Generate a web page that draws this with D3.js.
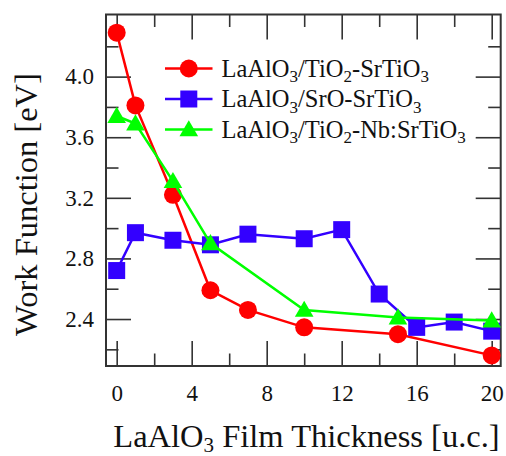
<!DOCTYPE html>
<html>
<head>
<meta charset="utf-8">
<script src="https://cdn.jsdelivr.net/npm/d3@7"></script>
<style>
  html, body { margin: 0; padding: 0; background: #fff; }
  svg text { font-family: "Liberation Serif", "Times New Roman", serif; fill: #111; }
</style>
</head>
<body>
<svg id="chart" width="506" height="456"></svg>
<script>
// values
const thicknessTiO2 = [0, 1, 3, 5, 7, 10, 15, 20];
const wfTiO2 = [4.29, 3.81, 3.22, 2.59, 2.46, 2.345, 2.30, 2.16];

const thicknessSrO = [0, 1, 3, 5, 7, 10, 12, 14, 16, 18, 20];
const wfSrO = [2.72, 2.97, 2.92, 2.89, 2.96, 2.93, 2.99, 2.565, 2.345, 2.38, 2.32];

const thicknessNb = [0, 1, 3, 5, 10, 15, 20];
const wfNb = [3.74, 3.69, 3.31, 2.90, 2.46, 2.41, 2.39];

const xMajorTicks = [0, 4, 8, 12, 16, 20];
const xMinorTicks = [2, 6, 10, 14, 18];
const yMajorTicks = [2.4, 2.8, 3.2, 3.6, 4.0];
const yMinorTicks = [2.2, 2.6, 3.0, 3.4, 3.8, 4.2];

const series = [
  { name: ['LaAlO', '3', '/TiO', '2', '-SrTiO', '3'], x: thicknessTiO2, y: wfTiO2, color: '#ff0000', symbol: 'circle' },
  { name: ['LaAlO', '3', '/SrO-SrTiO', '3'], x: thicknessSrO, y: wfSrO, color: '#3300ff', symbol: 'square' },
  { name: ['LaAlO', '3', '/TiO', '2', '-Nb:SrTiO', '3'], x: thicknessNb, y: wfNb, color: '#00ff00', symbol: 'triangle' }
];

const plotLeft = 106, plotTop = 14.5, plotRight = 500.7, plotBottom = 366;
const w = plotRight - plotLeft, h = plotBottom - plotTop;

const svg = d3.select('#chart');
const chart = svg.append('g').attr('transform', `translate(${plotLeft},${plotTop})`);

const x = d3.scaleLinear().domain([-0.57, 20.48]).range([0, w]);
const y = d3.scaleLinear().domain([2.09, 4.41]).range([h, 0]);

const axisColor = '#333';

function styleAxis(g) {
  g.select('.domain').remove();
  g.selectAll('.tick line').attr('stroke', axisColor).attr('stroke-width', 1.6);
  g.selectAll('.tick text').style('font-size', '23px').attr('fill', '#111');
}

// bottom and top
chart.append('g').attr('transform', `translate(0,${h})`)
  .call(d3.axisBottom(x).tickValues(xMajorTicks).tickSizeInner(-25).tickSizeOuter(0).tickPadding(18.5).tickFormat(d3.format('d')))
  .call(styleAxis);
chart.append('g').attr('transform', `translate(0,${h})`)
  .call(d3.axisBottom(x).tickValues(xMinorTicks).tickSizeInner(-12.5).tickSizeOuter(0).tickFormat(''))
  .call(styleAxis);
chart.append('g')
  .call(d3.axisTop(x).tickValues(xMajorTicks).tickSizeInner(-25).tickSizeOuter(0).tickFormat(''))
  .call(styleAxis);
chart.append('g')
  .call(d3.axisTop(x).tickValues(xMinorTicks).tickSizeInner(-12.5).tickSizeOuter(0).tickFormat(''))
  .call(styleAxis);

// left and right
chart.append('g')
  .call(d3.axisLeft(y).tickValues(yMajorTicks).tickSizeInner(-25).tickSizeOuter(0).tickPadding(12).tickFormat(d3.format('.1f')))
  .call(styleAxis);
chart.append('g')
  .call(d3.axisLeft(y).tickValues(yMinorTicks).tickSizeInner(-12.5).tickSizeOuter(0).tickFormat(''))
  .call(styleAxis);
chart.append('g').attr('transform', `translate(${w},0)`)
  .call(d3.axisRight(y).tickValues(yMajorTicks).tickSizeInner(-25).tickSizeOuter(0).tickFormat(''))
  .call(styleAxis);
chart.append('g').attr('transform', `translate(${w},0)`)
  .call(d3.axisRight(y).tickValues(yMinorTicks).tickSizeInner(-12.5).tickSizeOuter(0).tickFormat(''))
  .call(styleAxis);

chart.append('rect')
  .attr('width', w).attr('height', h)
  .attr('fill', 'none').attr('stroke', axisColor).attr('stroke-width', 2);

const symbolTypes = { circle: d3.symbolCircle, square: d3.symbolSquare, triangle: d3.symbolTriangle };
const symbolSizes = { circle: Math.PI * 81, square: 289, triangle: 150 };

function marker(g, s) {
  return g.append('path')
    .attr('d', d3.symbol().type(symbolTypes[s.symbol]).size(symbolSizes[s.symbol])())
    .attr('fill', s.color);
}

const line = d3.line().x(d => x(d[0])).y(d => y(d[1]));

series.forEach(s => {
  const pts = s.x.map((v, i) => [v, s.y[i]]);
  chart.append('path')
    .datum(pts)
    .attr('d', line)
    .attr('fill', 'none')
    .attr('stroke', s.color)
    .attr('stroke-width', 2.5);
  pts.forEach(p => {
    const dy = s.symbol === 'triangle' ? 1.5 : 0;
    marker(chart, s).attr('transform', `translate(${x(p[0])},${y(p[1]) + dy})`);
  });
});

// legend
const legend = svg.append('g').attr('transform', 'translate(165,68.5)');
series.forEach((s, i) => {
  const row = legend.append('g').attr('transform', `translate(0,${i * 30.5})`);
  row.append('line').attr('x1', 0).attr('x2', 47.5).attr('stroke', s.color).attr('stroke-width', 2.5);
  marker(row, s).attr('transform', `translate(23.8,${s.symbol === 'triangle' ? 1.5 : 0})`);
  const t = row.append('text').attr('x', 56.5).attr('y', 8.2).style('font-size', '24.5px');
  s.name.forEach((part, j) => {
    const sub = j % 2 === 1;
    t.append('tspan')
      .attr('dy', sub ? 5.5 : (j === 0 ? 0 : -5.5))
      .style('font-size', sub ? '17px' : '24.5px')
      .text(part);
  });
});

// axis titles
const xt = svg.append('text')
  .attr('x', 306.5).attr('y', 446.5)
  .attr('text-anchor', 'middle')
  .style('font-size', '32.5px');
xt.append('tspan').text('LaAlO');
xt.append('tspan').attr('dy', 5.5).style('font-size', '21px').text('3');
xt.append('tspan').attr('dy', -5.5).text(' Film Thickness [u.c.]');

svg.append('text')
  .attr('transform', 'translate(36.7,204.5) rotate(-90)')
  .attr('text-anchor', 'middle')
  .style('font-size', '32.5px')
  .text('Work Function [eV]');
</script>
</body>
</html>
